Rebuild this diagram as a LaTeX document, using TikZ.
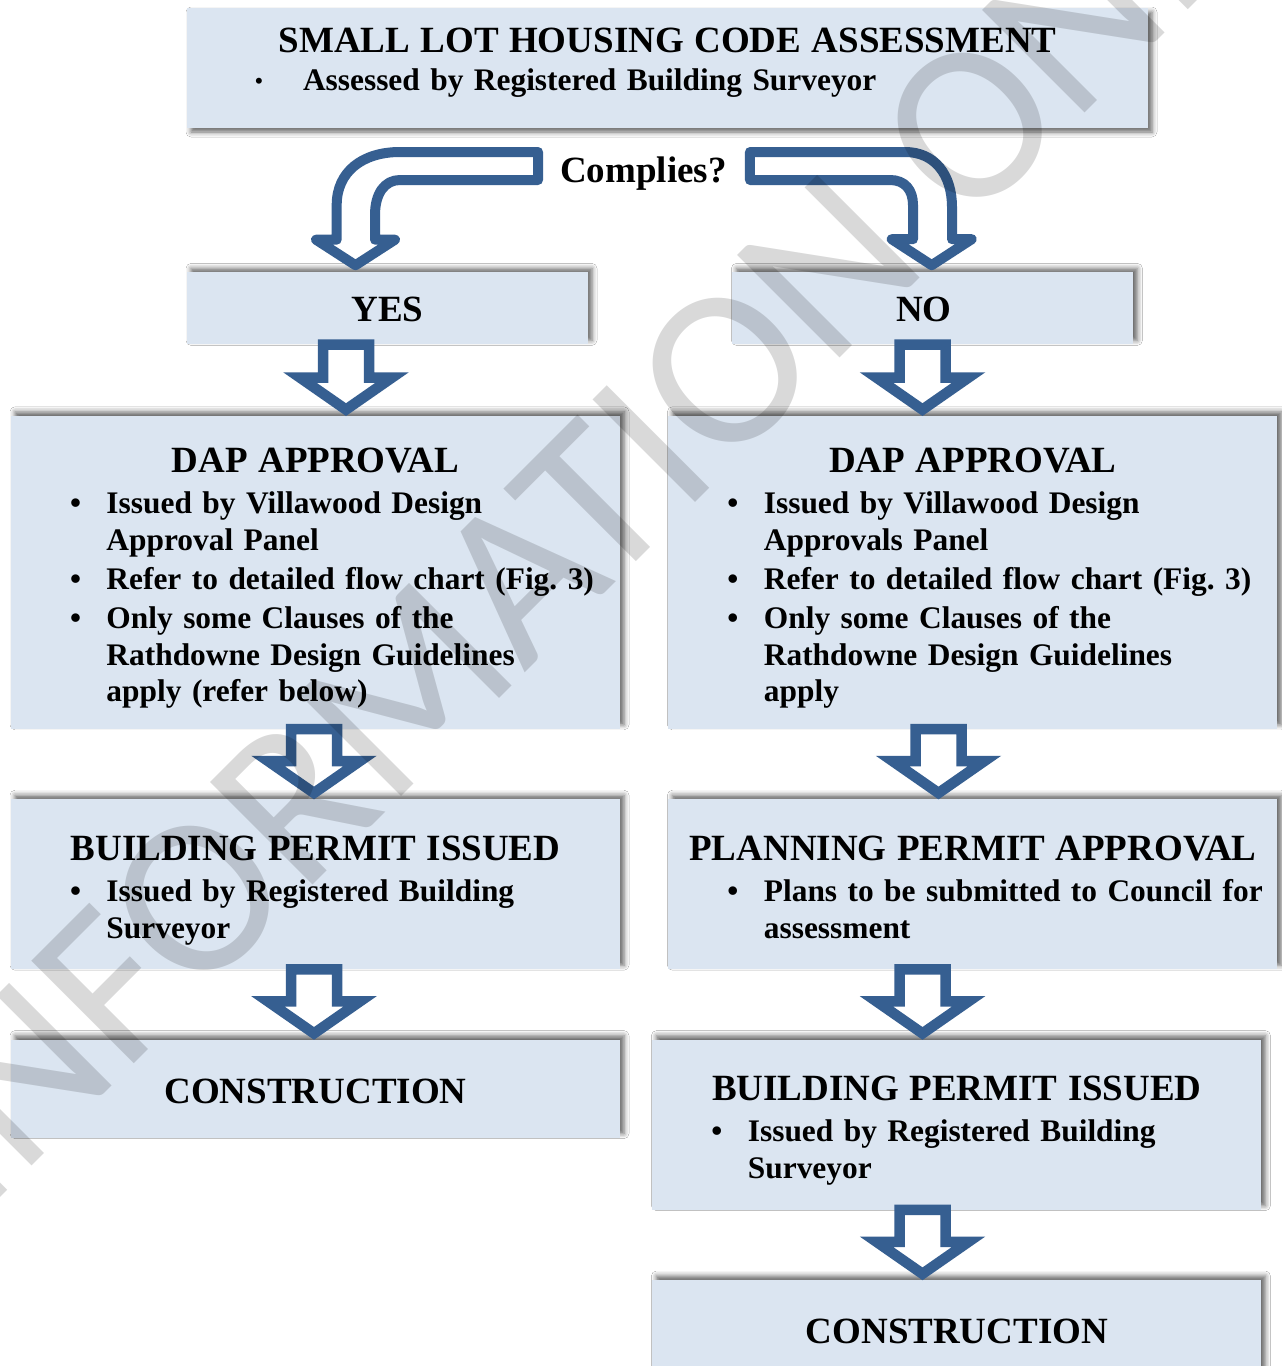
\documentclass[tikz,border=0pt]{standalone}
\usepackage{fontspec}
\setmainfont{Liberation Serif}
\newfontfamily\markfont{Carlito}
\usepackage{xcolor}
\usepackage{tikz}
\usetikzlibrary{positioning, calc, shadows.blur}
\definecolor{arrowblue}{HTML}{365F91}
\definecolor{boxblue}{HTML}{DBE5F1}
\frenchspacing

\newcommand{\headline}[1]{\makebox[\linewidth]{\fontsize{37}{42}\selectfont #1}\par\vspace{2.2pt}}
\newcommand{\bitem}[1]{\par\vspace{2pt}\noindent\hspace*{59pt}\makebox[36.5pt][l]{\textbullet}#1\par}
\newcommand{\bmore}[1]{\noindent\hspace*{95.5pt}#1\par}

% hollow block arrow from one box down to the next, #1 = x of its axis
\newcommand{\blockdown}[3]{%
  \draw[blockarrow] let \p1 = (#2.south), \p2 = (#3.north) in
    (#1pt-23pt,\y1) -- (#1pt+23pt,\y1) -- (#1pt+23pt,\y2+38pt) -- (#1pt+46pt,\y2+38pt)
    -- (#1pt,\y2+6pt) -- (#1pt-46pt,\y2+38pt) -- (#1pt-23pt,\y2+38pt) -- cycle;}

\begin{document}
\begin{tikzpicture}[
    x=1pt, y=-1pt,
    node distance=70pt,
    stage/.style={
        rectangle,
        fill=boxblue,
        inner sep=0pt,
        font=\fontsize{31.4}{36.8}\selectfont\bfseries
    },
    headbox/.style={stage, font=\fontsize{37}{42}\selectfont\bfseries},
    upshadow/.style={blur shadow={shadow xshift=4pt, shadow yshift=4pt, shadow blur radius=5pt, shadow opacity=60}},
    downshadow/.style={blur shadow={shadow xshift=4pt, shadow yshift=-4pt, shadow blur radius=5pt, shadow opacity=60}},
    blockarrow/.style={draw=arrowblue, fill=white, line width=10.5pt, line join=miter},
    bentarrow/.style={draw=arrowblue, fill=white, line width=10pt, line join=round},
    wmark/.style={font=\fontsize{226}{226}\selectfont\markfont, text=black, text opacity=0.15, inner sep=0pt}
]

\useasboundingbox (0,0) rectangle (1282,1366);
\fill[white] (0,0) rectangle (1282,1366);

\node[stage, downshadow, text width=961pt, minimum width=961pt, minimum height=120pt,
      text height=44pt, text depth=76pt] (code) at (667.5,68)
{\makebox[\linewidth]{\fontsize{37}{42}\selectfont SMALL LOT HOUSING CODE ASSESSMENT}\par\vspace{1.2pt}%
 \noindent\hspace*{68pt}\makebox[48pt][l]{\raisebox{2pt}{\fontsize{22}{22}\selectfont\textbullet}}Assessed by Registered Building Surveyor\par};

\node[font=\fontsize{37}{42}\selectfont\bfseries, inner sep=0pt, anchor=base] (comp) at (643.5,182) {Complies?};

\node[headbox, upshadow, minimum width=401pt, minimum height=72pt, text height=49.5pt, text depth=22.5pt,
      below=144pt of code.south west, anchor=north west] (yes) {YES};
\node[headbox, upshadow, minimum width=401pt, minimum height=72pt, text height=49.5pt, text depth=22.5pt,
      right=144pt of yes] (no) {NO\hspace*{18pt}};

\node[stage, upshadow, text width=609pt, minimum width=609pt, minimum height=313pt, text height=57pt, text depth=256pt,
      below=71pt of yes.south west, anchor=north west, xshift=-176pt] (dapl)
{\headline{DAP APPROVAL}%
 \bitem{Issued by Villawood Design}\bmore{Approval Panel}%
 \bitem{Refer to detailed flow chart (Fig. 3)}%
 \bitem{Only some Clauses of the}\bmore{Rathdowne Design Guidelines}\bmore{apply (refer below)}};

\node[stage, upshadow, text width=609pt, minimum width=609pt, minimum height=313pt, text height=57pt, text depth=256pt,
      right=48pt of dapl] (dapr)
{\headline{DAP APPROVAL}%
 \bitem{Issued by Villawood Design}\bmore{Approvals Panel}%
 \bitem{Refer to detailed flow chart (Fig. 3)}%
 \bitem{Only some Clauses of the}\bmore{Rathdowne Design Guidelines}\bmore{apply}};

\node[stage, upshadow, text width=609pt, minimum width=609pt, minimum height=170pt, text height=61.3pt, text depth=108.7pt,
      below=of dapl] (bpl)
{\headline{BUILDING PERMIT ISSUED}%
 \bitem{Issued by Registered Building}\bmore{Surveyor}};

\node[stage, upshadow, text width=609pt, minimum width=609pt, minimum height=170pt, text height=61.3pt, text depth=108.7pt,
      below=of dapr] (ppr)
{\headline{PLANNING PERMIT APPROVAL}%
 \bitem{Plans to be submitted to Council for}\bmore{assessment}};

\node[headbox, upshadow, minimum width=609pt, minimum height=98pt, text height=63.7pt, text depth=34.3pt,
      below=of bpl] (conl) {CONSTRUCTION};

\node[stage, upshadow, text width=609pt, minimum width=609pt, minimum height=170pt, text height=61.3pt, text depth=108.7pt,
      below=of ppr, xshift=-16pt] (bpr)
{\headline{BUILDING PERMIT ISSUED}%
 \bitem{Issued by Registered Building}\bmore{Surveyor}};

\node[headbox, upshadow, minimum width=609pt, minimum height=98pt, text height=63.7pt, text depth=34.3pt,
      below=of bpr] (conr) {CONSTRUCTION};

% bent arrows out of the question
\draw[bentarrow] let \p1 = (comp.base west), \p2 = (yes.north) in
    (\x1-22pt,\y1+30pt) -- (400pt,\y1+30pt)
    .. controls (362pt,\y1+30pt) and (336.7pt,\y1+10pt) .. (336.7pt,\y1-23pt)
    -- (336.7pt,\y2+32.5pt) -- (316pt,\y2+32.5pt) -- (355.5pt,\y2+7pt)
    -- (395pt,\y2+32.5pt) -- (375pt,\y2+32.5pt) -- (375pt,\y1-33pt)
    .. controls (375pt,\y1-11pt) and (385pt,\y1+2pt) .. (400pt,\y1+2pt)
    -- (\x1-22pt,\y1+2pt) -- cycle;
\draw[bentarrow] let \p1 = (comp.base east), \p2 = (no.north) in
    (\x1+23pt,\y1+30pt) -- (905pt,\y1+30pt)
    .. controls (935pt,\y1+30pt) and (952pt,\y1+7pt) .. (952pt,\y1-25pt)
    -- (952pt,\y2+33pt) -- (971.7pt,\y2+33pt) -- (931.7pt,\y2+7pt)
    -- (891.7pt,\y2+33pt) -- (913pt,\y2+33pt) -- (913pt,\y1-23pt)
    .. controls (913pt,\y1-8pt) and (905pt,\y1+2pt) .. (890pt,\y1+2pt)
    -- (\x1+23pt,\y1+2pt) -- cycle;

\blockdown{346}{yes}{dapl}
\blockdown{922.5}{no}{dapr}
\blockdown{314}{dapl}{bpl}
\blockdown{938.5}{dapr}{ppr}
\blockdown{314}{bpl}{conl}
\blockdown{922.5}{ppr}{bpr}
\blockdown{922.5}{bpr}{conr}

\node[wmark, rotate=45, anchor=base west] (stamp) at (-20,1218) {INFORMATION ONLY};

\end{tikzpicture}
\end{document}
